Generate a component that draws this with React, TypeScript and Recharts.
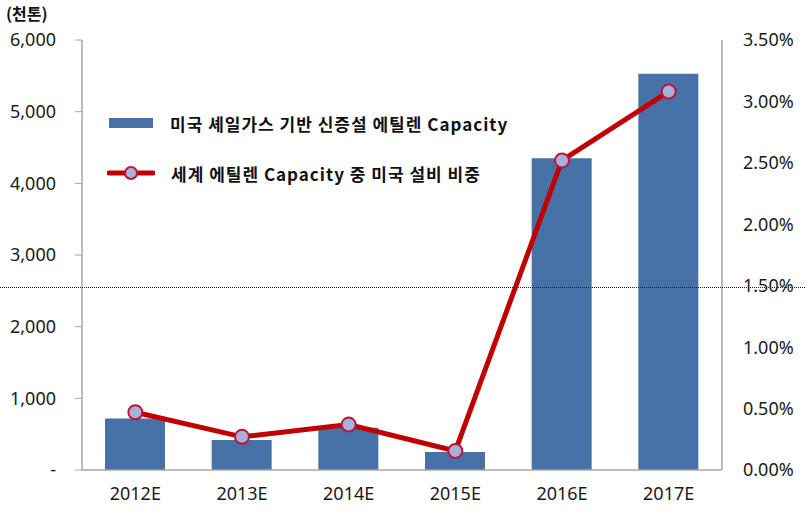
import { ComposedChart, Bar, Line, XAxis, YAxis, Legend } from 'recharts';

const categories = ['2012E', '2013E', '2014E', '2015E', '2016E', '2017E'];
// 미국 셰일가스 기반 신증설 에틸렌 Capacity (천톤)
const capacity = [720, 420, 590, 250, 4350, 5530];
// 세계 에틸렌 Capacity 중 미국 설비 비중 (%)
const usShare = [0.47, 0.27, 0.37, 0.155, 2.52, 3.08];
const leftTicks = [0, 1000, 2000, 3000, 4000, 5000, 6000];
const rightTicks = [0, 0.5, 1, 1.5, 2, 2.5, 3, 3.5];

const barName = '미국 셰일가스 기반 신증설 에틸렌 Capacity';
const lineName = '세계 에틸렌 Capacity 중 미국 설비 비중';

const data = categories.map((c, i) => ({
  name: c,
  capacity: capacity[i],
  share: usShare[i],
}));

const FONT = "'Noto Sans', 'Noto Sans CJK KR', sans-serif";
const KFONT = "'Noto Sans CJK KR', 'Noto Sans', sans-serif";
const AXIS = '#A6A6A6';
const BAR = '#4672A8';
const RED = '#C00000';

const tickStyle = { fontSize: 18, fill: '#1a1a1a', fontFamily: FONT };

function ChartLegend() {
  return (
    <div style={{ fontFamily: KFONT, fontWeight: 700, fontSize: 17, letterSpacing: 1, color: '#111' }}>
      <div style={{ display: 'flex', alignItems: 'center', height: 20 }}>
        <span style={{ width: 44, height: 10, background: BAR, marginLeft: 4, marginRight: 17 }} />
        <span>{barName}</span>
      </div>
      <div style={{ display: 'flex', alignItems: 'center', height: 20, marginTop: 30 }}>
        <svg width={48} height={16} style={{ marginLeft: 2, marginRight: 16 }}>
          <line x1={2} y1={8} x2={46} y2={8} stroke={RED} strokeWidth={5} strokeLinecap="round" />
          <circle cx={24} cy={8} r={6} fill="#A5B3DA" stroke="#C0143C" strokeWidth={2} />
        </svg>
        <span>{lineName}</span>
      </div>
    </div>
  );
}

export default function App() {
  return (
    <div style={{ position: 'absolute', left: 0, top: 0, width: 805, height: 511, background: '#fff' }}>
      <div
        style={{
          position: 'absolute',
          left: 6,
          top: 1,
          fontFamily: KFONT,
          fontWeight: 700,
          fontSize: 16,
          color: '#111',
        }}
      >
        (천톤)
      </div>
      <ComposedChart
        width={805}
        height={511}
        data={data}
        margin={{ top: 40, right: 0, left: 0, bottom: 0 }}
      >
        <XAxis
          dataKey="name"
          height={41}
          tickSize={0}
          tickMargin={17}
          tickLine={false}
          axisLine={{ stroke: AXIS, strokeWidth: 1.5 }}
          tick={tickStyle}
        />
        <YAxis
          yAxisId="left"
          width={82}
          domain={[0, 6000]}
          ticks={leftTicks}
          interval={0}
          tickSize={7}
          tickMargin={19}
          axisLine={{ stroke: AXIS, strokeWidth: 1.5 }}
          tickLine={{ stroke: AXIS }}
          tick={tickStyle}
          tickFormatter={(v: number) => (v === 0 ? '-' : v.toLocaleString('en-US'))}
        />
        <YAxis
          yAxisId="right"
          orientation="right"
          width={83}
          domain={[0, 3.5]}
          ticks={rightTicks}
          interval={0}
          tickSize={0}
          tickMargin={21}
          tickLine={false}
          axisLine={{ stroke: AXIS, strokeWidth: 1.5 }}
          tick={{ ...tickStyle, textAnchor: 'start' }}
          tickFormatter={(v: number) => `${v.toFixed(2)}%`}
        />
        <Legend
          verticalAlign="middle"
          layout="horizontal"
          content={() => <ChartLegend />}
          wrapperStyle={{ position: 'absolute', left: 105, top: 113, width: 'auto' }}
        />
        <Bar
          yAxisId="left"
          dataKey="capacity"
          name={barName}
          fill={BAR}
          barSize={60}
          isAnimationActive={false}
        />
        <Line
          yAxisId="right"
          dataKey="share"
          name={lineName}
          stroke={RED}
          strokeWidth={5}
          dot={{ r: 7, fill: '#A5B3DA', stroke: '#C0143C', strokeWidth: 2 }}
          activeDot={false}
          isAnimationActive={false}
        />
      </ComposedChart>
      <div
        style={{
          position: 'absolute',
          left: 0,
          top: 287,
          width: 805,
          borderTop: '1px dotted #222',
          pointerEvents: 'none',
        }}
      />
    </div>
  );
}
